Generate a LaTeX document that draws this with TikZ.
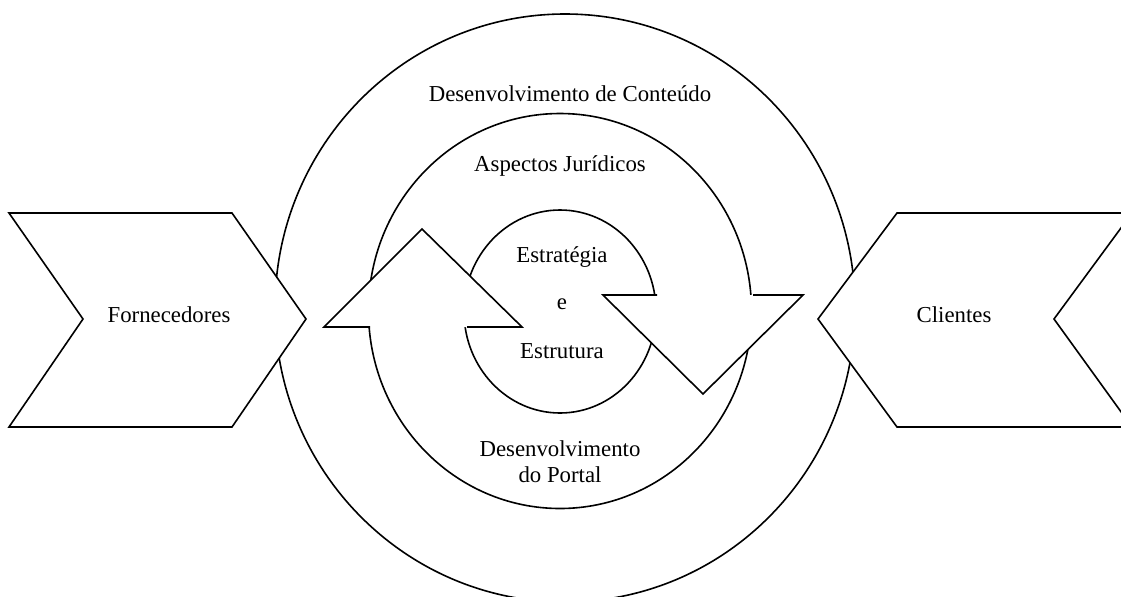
\documentclass[tikz,border=0pt]{standalone}
\usepackage{fontspec}
\setmainfont{Liberation Serif}

\begin{document}
\begin{tikzpicture}[
    x=0.5pt, y=-0.5pt,
    % estilo comum das linhas
    border_style/.style={line width=0.8pt},
    chevron_style/.style={border_style, fill=white},
    rotulo/.style={font=\fontsize{11.4}{13}\selectfont, inner sep=0, anchor=base}
]
    \useasboundingbox (0,0) rectangle (1121,596);
    \clip (0,0) rectangle (1121,596);

    % --- macro da cabeca de seta (ponta, cantos da base, bordas da haste) ---
    \newcommand{\cabeca}[5]{
        \fill[white] (#1) -- (#2) -- (#3) -- cycle;
        \draw[border_style] (#4) -- (#2) -- (#1) -- (#3) -- (#5);
    }

    % --- circulos ---
    \draw[border_style] (565,308) ellipse [x radius=145pt, y radius=147pt];
    \draw[border_style] (560,311) ellipse [x radius=95.75pt, y radius=98.75pt];
    \draw[border_style] (560,311.5) ellipse [x radius=48pt, y radius=50.75pt];

    % --- fornecedores e clientes ---
    \draw[chevron_style] (9,213) -- (232,213) -- (306,319) -- (232,427) -- (9,427) -- (83,319) -- cycle;
    \draw[chevron_style] (897,213) -- (1132,213) -- (1054,319) -- (1132,427) -- (897,427) -- (818,319) -- cycle;

    % --- setas do ciclo ---
    \cabeca{422,229}{324,327}{522,327}{370,327}{467,327}
    \cabeca{703,394}{603,295}{803,295}{657,295}{753,295}

    % --- textos ---
    \node[rotulo] (conteudo) at (570,101) {Desenvolvimento de Conteúdo};
    \node[rotulo] (juridico) at (560,171) {Aspectos Jurídicos};
    \node[rotulo] (estrategia) at (562,262) {Estratégia};
    \node[rotulo] (e) at (562,309) {e};
    \node[rotulo] (estrutura) at (562,358) {Estrutura};
    \node[rotulo] (portal1) at (560,456) {Desenvolvimento};
    \node[rotulo] (portal2) at (560,482) {do Portal};
    \node[rotulo] (fornecedores) at (169,322) {Fornecedores};
    \node[rotulo] (clientes) at (954,322) {Clientes};

\end{tikzpicture}
\end{document}
